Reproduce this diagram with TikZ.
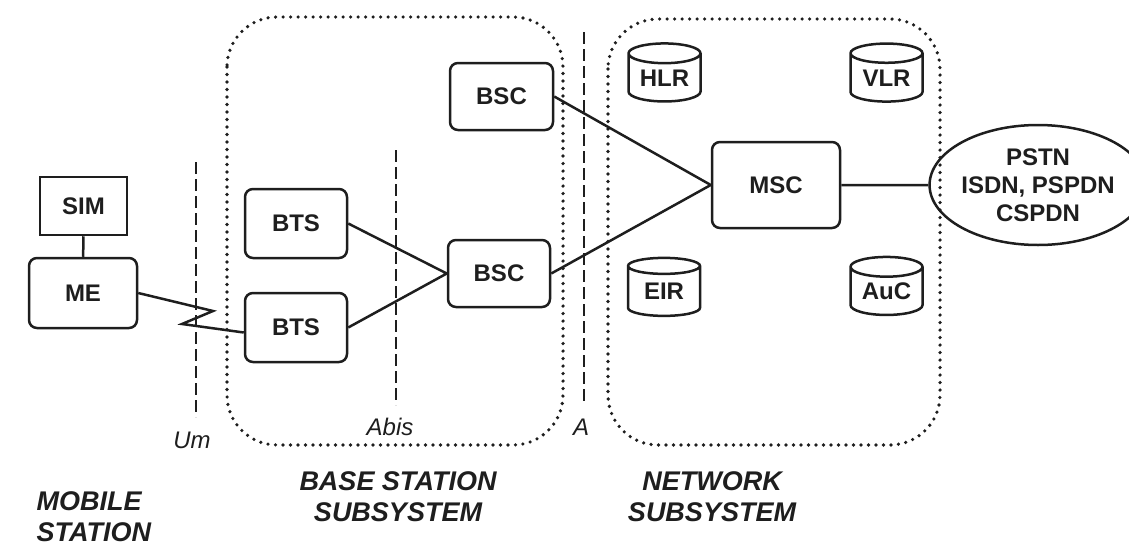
\documentclass[tikz,border=0pt]{standalone}
\usepackage{fontspec}
\setmainfont{Liberation Sans}
\usetikzlibrary{shapes.geometric}

\definecolor{ink}{HTML}{1E1E1E}

\tikzset{
  unit/.style={draw=ink, line width=2.5pt, rounded corners=8pt, inner sep=0pt,
               text=ink, font=\fontsize{24}{26}\selectfont\bfseries},
  card/.style={unit, rounded corners=0pt},
  db/.style={cylinder, shape border rotate=90, aspect=0.4, draw=ink, line width=2.5pt,
             inner sep=0pt, minimum width=72pt, minimum height=58pt,
             text=ink, font=\fontsize{24}{26}\selectfont\bfseries},
  net/.style={ellipse, draw=ink, line width=2.5pt, inner sep=0pt, align=center,
              minimum width=173pt, minimum height=120pt,
              text=ink, font=\fontsize{24}{28}\selectfont\bfseries},
  link/.style={draw=ink, line width=2.5pt},
  iface/.style={draw=ink, line width=2.8pt, dash pattern=on 12pt off 5pt},
  subsys/.style={draw=ink, line width=3.6pt, line cap=round,
                 dash pattern=on 0pt off 7.5pt, rounded corners=50pt},
  ifname/.style={text=ink, font=\fontsize{24}{26}\selectfont\itshape},
  part/.style={text=ink, align=center,
               font=\fontsize{27}{31}\selectfont\bfseries\itshape}
}

\begin{document}
\begin{tikzpicture}[x=1pt, y=-1pt]

\useasboundingbox (0,0) rectangle (1129,549);

% subsystem outlines
\draw[subsys] (227,17) rectangle (563,445);
\draw[subsys] (608,19) rectangle (940,445);

% interfaces
\draw[iface] (196,162) -- (196,417);
\draw[iface] (396,150) -- (396,405);
\draw[iface] (584,32) -- (584,405);
\node[ifname] (um)   at (192,440) {Um};
\node[ifname] (abis) at (390,427) {Abis};
\node[ifname] (a)    at (581,427) {A};

% mobile station
\node (sim) [card, minimum width=87pt, minimum height=58pt] at (83.5,206) {SIM};
\node (me)  [unit, minimum width=108pt, minimum height=70pt] at (83,293) {ME};

% base station subsystem
\node (bts1) [unit, minimum width=102pt, minimum height=69pt] at (296,223.5) {BTS};
\node (bts2) [unit, minimum width=102pt, minimum height=69pt] at (296,327.5) {BTS};
\node (bsc1) [unit, minimum width=103pt, minimum height=67pt] at (501.5,96.5) {BSC};
\node (bsc2) [unit, minimum width=102pt, minimum height=67pt] at (499,273.5) {BSC};

% network subsystem
\node (msc) [unit, minimum width=128pt, minimum height=86pt] at (776,185) {MSC};
\node (hlr) [db] at (664.5,78)  {HLR};
\node (vlr) [db] at (886.5,78)  {VLR};
\node (eir) [db] at (664,291.5) {EIR};
\node (auc) [db] at (886.5,291.5) {AuC};

\node (pstn) [net] at (1038,185) {PSTN\\ISDN, PSPDN\\CSPDN};

% radio link over Um
\coordinate (z1) at (213,311);
\coordinate (z2) at (182,324);

\path[link]
  (sim) -- (me)
  (me.east) -- (z1) -- (z2) -- ([yshift=-5pt]bts2.west)
  (bts1.east) -- (bsc2.west)
  (bts2.east) -- (bsc2.west)
  (bsc1.east) -- (msc.west)
  (bsc2.east) -- (msc.west)
  (msc) -- (pstn);

% subsystem names
\node[part, align=left, anchor=west] (ms)  at (33,517) {MOBILE\\STATION};
\node[part] (bss) at (398,497) {BASE STATION\\SUBSYSTEM};
\node[part] (nss) at (712,497) {NETWORK\\SUBSYSTEM};

\end{tikzpicture}
\end{document}
